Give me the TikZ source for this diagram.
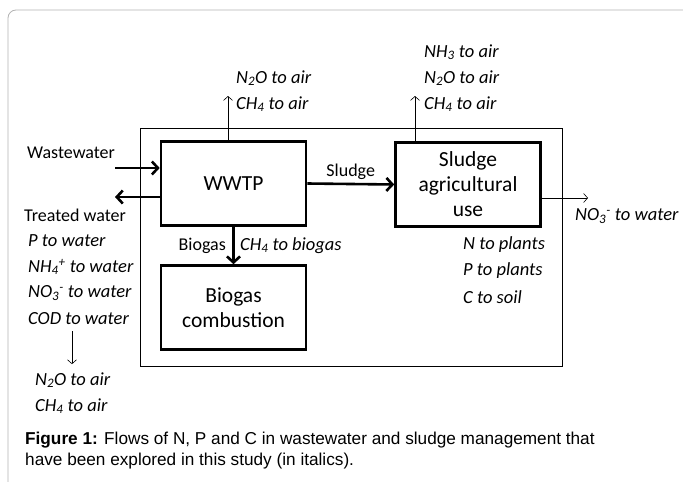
\documentclass[tikz,border=0pt]{standalone}
\usepackage{fontspec}
\setmainfont{Carlito}
\newfontfamily\capfont{Liberation Sans}
\usepackage{tikz}
\usetikzlibrary{arrows.meta,positioning}

\begin{document}
\begin{tikzpicture}[x=1pt,y=-1pt]

	\tikzstyle{unit}=[draw,line width=2.6pt,minimum width=145pt,minimum height=84pt,align=center,font=\fontsize{21.5}{25}\selectfont]
	\tikzstyle{lbl}=[inner sep=0pt,anchor=west,font=\fontsize{18}{21}\selectfont]
	\tikzstyle{flow}=[lbl,font=\fontsize{18.5}{21}\selectfont\itshape]
	\tikzstyle{bigarrow}=[line width=2.6pt,-{Straight Barb[length=6pt,width=13pt,line width=2.6pt]}]
	\tikzstyle{smallarrow}=[line width=0.6pt,-{Straight Barb[length=4pt,width=9pt]}]

	% frame and system boundary
	\useasboundingbox (0,0) rectangle (683,482);
	\clip (0,0) rectangle (683,482);
	\draw[gray!60,line width=0.8pt,rounded corners=8pt] (8,10) rectangle (720,520);
	\draw[line width=0.6pt] (140,128) rectangle (562,366);

	% process units
	\node[unit] (wwtp) at (233.5,183.5) {WWTP};
	\node[unit] (sludge) at (468,184.5) {Sludge\\agricultural\\use};
	\node[unit] (comb) at (233.5,307.5) {Biogas\\combustion};

	% inputs and outputs of the plant
	\node[lbl] (ww) at (27,153) {Wastewater};
	\node[lbl] (tw) at (24,215) {Treated water};
	\node[flow] (pw) at (28,241) {P to water};
	\node[flow] (nh4w) at (28,267) {NH\textsubscript{4}\textsuperscript{+} to water};
	\node[flow] (no3w) at (28,293) {NO\textsubscript{3}\textsuperscript{-} to water};
	\node[flow] (codw) at (28,319) {COD to water};
	\node[flow] (n2oa) at (35,380) {N\textsubscript{2}O to air};
	\node[flow] (ch4a) at (35,406) {CH\textsubscript{4} to air};

	\coordinate (inA) at (115,168);
	\coordinate (outA) at (115,197);
	\coordinate (down) at (72,331);
	\draw[bigarrow] (inA) -- (inA -| wwtp.west);
	\draw[bigarrow] (outA -| wwtp.west) -- (outA);
	\draw[smallarrow,shorten >=8pt] (down) -- (down |- n2oa.north);

	% emissions to air
	\node[flow] (n2o1) at (236,78) {N\textsubscript{2}O to air};
	\node[flow] (ch41) at (236,104) {CH\textsubscript{4} to air};
	\node[flow] (nh32) at (424,52) {NH\textsubscript{3} to air};
	\node[flow] (n2o2) at (424,78) {N\textsubscript{2}O to air};
	\node[flow] (ch42) at (424,104) {CH\textsubscript{4} to air};
	\coordinate (up1) at (228,96);
	\coordinate (up2) at (415,96);
	\draw[smallarrow] (up1 |- wwtp.north) -- (up1);
	\draw[smallarrow] (up2 |- sludge.north) -- (up2);

	% sludge and biogas
	\draw[bigarrow] (wwtp.east) -- node[above,inner sep=3pt,font=\fontsize{18}{21}\selectfont] {Sludge} (sludge.west);
	\draw[bigarrow] (wwtp.south) -- node[left=3pt,font=\fontsize{18}{21}\selectfont] {Biogas} node[right=2pt,font=\fontsize{18.5}{21}\selectfont\itshape] {CH\textsubscript{4} to biogas} (comb.north);

	% sludge use
	\coordinate (no3out) at (588,198);
	\draw[smallarrow] (sludge.east |- no3out) -- (no3out);
	\node[flow] (no3s) at (575,216) {NO\textsubscript{3}\textsuperscript{-} to water};
	\node[flow] (np) at (463,245) {N to plants};
	\node[flow] (pp) at (463,271) {P to plants};
	\node[flow] (cs) at (463,297) {C to soil};

	% caption
	\node[anchor=north west,inner sep=0pt,align=left,font=\capfont\fontsize{17.2}{20.5}\selectfont] (cap) at (25,432)
		{\textbf{Figure 1:} Flows of N, P and C in wastewater and sludge management that\\have been explored in this study (in italics).};

\end{tikzpicture}
\end{document}
